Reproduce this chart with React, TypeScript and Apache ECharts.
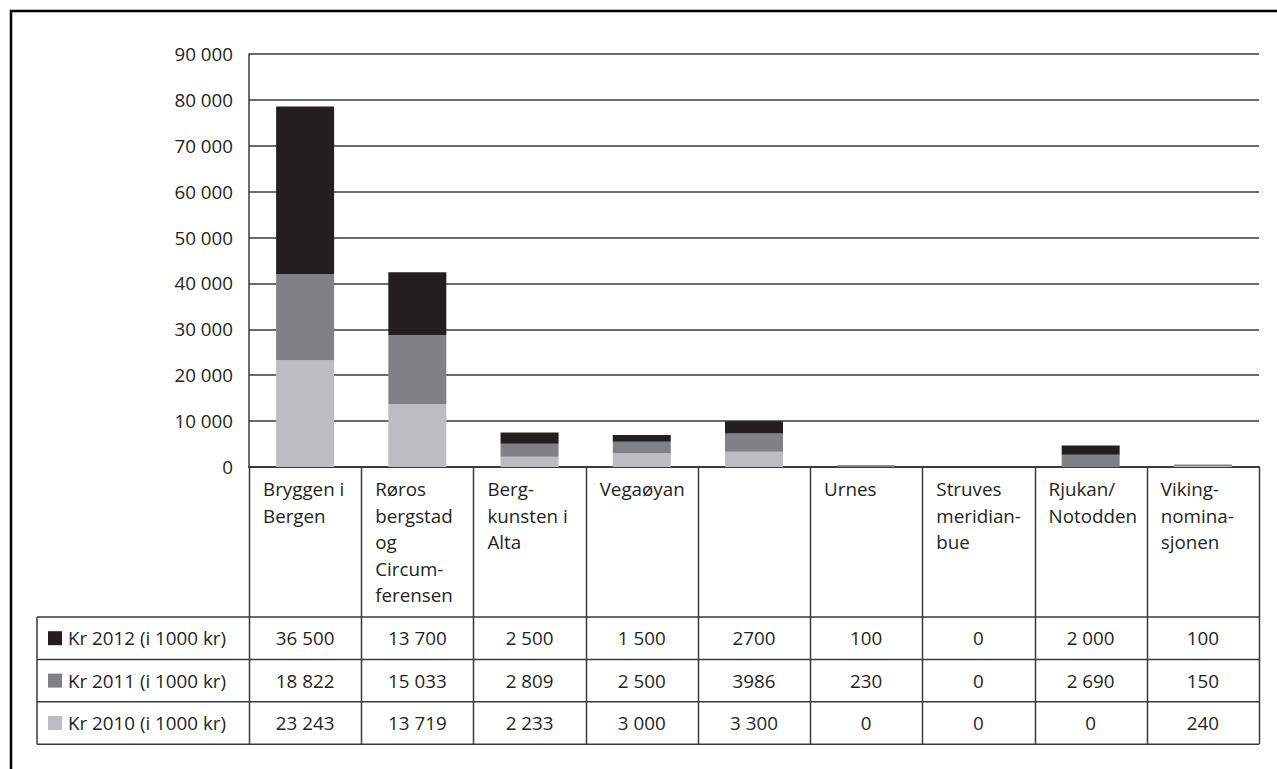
import React, { useEffect, useRef } from "react";
import * as echarts from "echarts";

const categories = [
  "Bryggen i\nBergen",
  "Røros\nbergstad\nog\nCircum-\nferensen",
  "Berg-\nkunsten i\nAlta",
  "Vegaøyan",
  "",
  "Urnes",
  "Struves\nmeridian-\nbue",
  "Rjukan/\nNotodden",
  "Viking-\nnomina-\nsjonen",
];

const seriesNames = ["Kr 2012 (i 1000 kr)", "Kr 2011 (i 1000 kr)", "Kr 2010 (i 1000 kr)"];
const kr2012 = ["36 500", "13 700", "2 500", "1 500", "2700", "100", "0", "2 000", "100"];
const kr2011 = ["18 822", "15 033", "2 809", "2 500", "3986", "230", "0", "2 690", "150"];
const kr2010 = ["23 243", "13 719", "2 233", "3 000", "3 300", "0", "0", "0", "240"];
const seriesColors = ["#231f20", "#808184", "#bcbdc0"];

const yTicks = [0, 10000, 20000, 30000, 40000, 50000, 60000, 70000, 80000, 90000];

const FONT = "'Open Sans', 'Noto Sans', sans-serif";
const FS = 18.8;
const TEXT = "#231f20";
const LINE = "#3a3a3a";

const toNum = (s: string) => Number(s.replace(/\s/g, ""));
const fmt = (v: number) => String(v).replace(/\B(?=(\d{3})+(?!\d))/g, " ");

export default function App() {
  const ref = useRef<HTMLDivElement>(null);
  useEffect(() => {
    if (!ref.current) return;
    document.documentElement.style.overflow = "hidden";
    document.body.style.margin = "0";
    document.body.style.overflow = "hidden";
    const chart = echarts.init(ref.current, undefined, { renderer: "svg" });
    const rows = [kr2012, kr2011, kr2010];
    const stackOrder = [2, 1, 0];
    chart.setOption({
      animation: false,
      grid: { left: 249, right: 18, top: 54, bottom: 302, containLabel: false },
      xAxis: {
        type: "category",
        data: categories,
        axisLine: { show: true, lineStyle: { color: LINE, width: 2 } },
        axisTick: { show: false },
        axisLabel: { show: false },
        splitLine: { show: false },
      },
      yAxis: {
        type: "value",
        min: yTicks[0],
        max: yTicks[yTicks.length - 1],
        interval: yTicks[1] - yTicks[0],
        axisLine: { show: true, lineStyle: { color: LINE, width: 1.5 } },
        axisTick: { show: false },
        axisLabel: {
          margin: 16,
          color: TEXT,
          fontFamily: FONT,
          fontSize: FS,
          formatter: (v: number) => fmt(v),
        },
        splitLine: { show: true, lineStyle: { color: LINE, width: 1.5 } },
      },
      series: stackOrder.map((i) => ({
        name: seriesNames[i],
        type: "bar",
        stack: "total",
        barWidth: 58,
        itemStyle: { color: seriesColors[i] },
        data: rows[i].map(toNum),
      })),
    });

    const x0 = chart.convertToPixel({ xAxisIndex: 0 }, 0) as number;
    const x1 = chart.convertToPixel({ xAxisIndex: 0 }, 1) as number;
    const band = x1 - x0;
    const gridLeft = x0 - band / 2;
    const gridRight = gridLeft + band * categories.length;
    const yZero = chart.convertToPixel({ yAxisIndex: 0 }, 0) as number;
    const rowTop = yZero + 150;
    const rowH = 42.4;
    const tableLeft = 37;
    const lineStyle = { stroke: LINE, lineWidth: 1.5 };
    const g: any[] = [];

    // outer frame (top and left edges)
    g.push({ type: "line", shape: { x1: 10, y1: 11, x2: 1277, y2: 11 }, style: { stroke: "#000", lineWidth: 2.5 }, silent: true });
    g.push({ type: "line", shape: { x1: 11, y1: 10, x2: 11, y2: 769 }, style: { stroke: "#000", lineWidth: 2.5 }, silent: true });

    // vertical lines
    for (let k = 0; k <= categories.length; k++) {
      const x = Math.round(gridLeft + k * band) + 0.5;
      g.push({ type: "line", shape: { x1: x, y1: yZero, x2: x, y2: rowTop + 3 * rowH }, style: lineStyle });
    }
    g.push({ type: "line", shape: { x1: tableLeft, y1: rowTop, x2: tableLeft, y2: rowTop + 3 * rowH }, style: lineStyle });
    for (let r = 0; r <= 3; r++) {
      const y = rowTop + r * rowH;
      g.push({ type: "line", shape: { x1: tableLeft, y1: y, x2: gridRight, y2: y }, style: lineStyle });
    }

    // category labels
    categories.forEach((c, i) => {
      g.push({
        type: "text",
        x: gridLeft + i * band + 14,
        y: yZero + 9,
        style: { text: c, fill: TEXT, font: `${FS}px ${FONT}`, lineHeight: 26.5, verticalAlign: "top", align: "left" },
      });
    });

    // table rows
    rows.forEach((vals, r) => {
      const cy = rowTop + r * rowH + rowH / 2;
      g.push({ type: "rect", shape: { x: 48, y: cy - 7, width: 14, height: 14 }, style: { fill: seriesColors[r] } });
      g.push({
        type: "text",
        x: 68,
        y: cy,
        style: { text: seriesNames[r], fill: TEXT, font: `${FS}px ${FONT}`, verticalAlign: "middle", align: "left" },
      });
      vals.forEach((v, i) => {
        g.push({
          type: "text",
          x: gridLeft + (i + 0.5) * band,
          y: cy,
          style: { text: v, fill: TEXT, font: `${FS}px ${FONT}`, verticalAlign: "middle", align: "center" },
        });
      });
    });

    chart.setOption({ graphic: g });
    return () => chart.dispose();
  }, []);
  return (
    <div
      ref={ref}
      style={{ position: "fixed", left: 0, top: 0, width: 1277, height: 769, background: "#fff" }}
    />
  );
}
